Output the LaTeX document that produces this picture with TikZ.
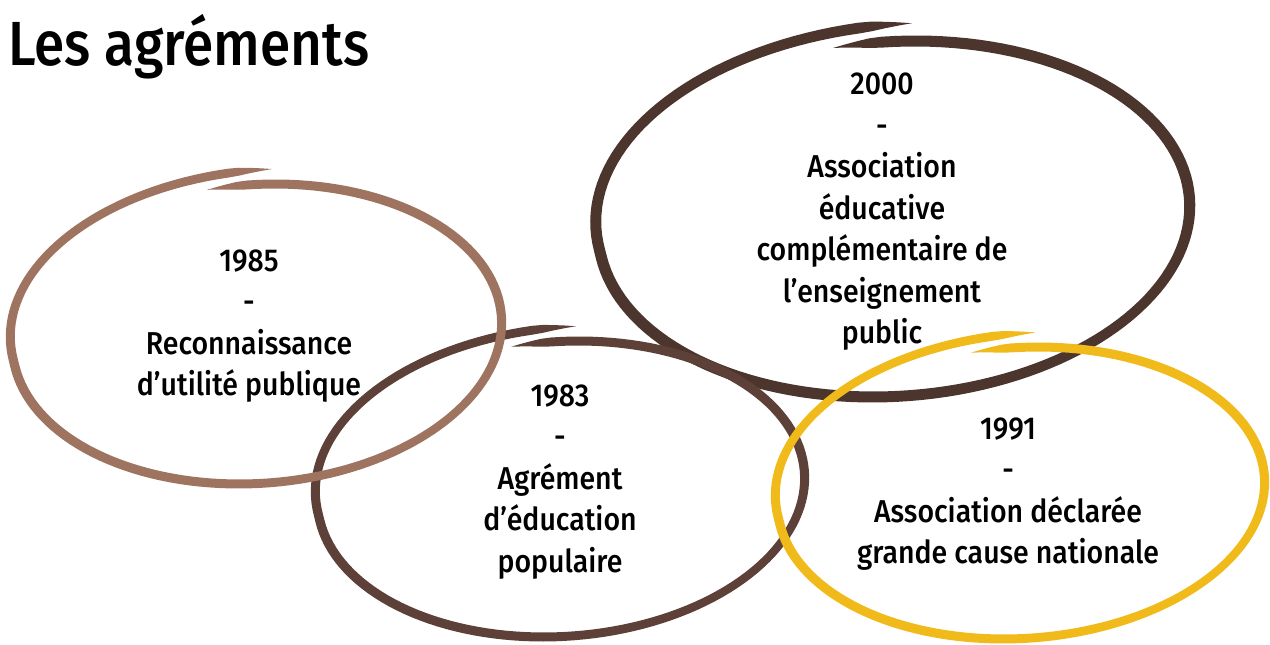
\documentclass[tikz,border=0pt]{standalone}
\usepackage{fontspec}
\setmainfont{Fira Sans Medium}[FakeStretch=0.9]
\newfontfamily\headfont{Fira Sans Medium}[FakeStretch=0.88]

\definecolor{rose85}{HTML}{9E7360}
\definecolor{brown83}{HTML}{5D4037}
\definecolor{dark00}{HTML}{4B352D}
\definecolor{gold91}{HTML}{F0BB1A}

\begin{document}
\begin{tikzpicture}[x=0.02cm, y=-0.02cm,
  declare function={grow(\t)=1+0.1*max(0,1-(\t-91)/100);
                    half(\t)=min(1,(\t-91)/8,(466-\t)/8);},
  brush/.style={domain=91:466, samples=160, variable=\t},
  brushback/.style={domain=466:91, samples=160, variable=\t},
  label/.style={align=center, inner sep=0pt, font=\fontsize{18}{23.6}\selectfont},
  heading/.style={inner sep=0pt, font=\headfont\fontsize{35.5}{40}\selectfont}]
\useasboundingbox (0,0) rectangle (1270,645);

% brush loops, one per year
\fill[dark00, shift={(894,219)}, xslant=.12]
  plot[brush] ({(295*grow(\t)+5.5*half(\t))*cos(\t)}, {-(178*grow(\t)+5.5*half(\t))*sin(\t)})
  -- plot[brushback] ({(295*grow(\t)-5.5*half(\t))*cos(\t)}, {-(178*grow(\t)-5.5*half(\t))*sin(\t)}) -- cycle;
\fill[brown83, shift={(561,489)}, xslant=.12]
  plot[brush] ({(243*grow(\t)+4.5*half(\t))*cos(\t)}, {-(148*grow(\t)+4.5*half(\t))*sin(\t)})
  -- plot[brushback] ({(243*grow(\t)-4.5*half(\t))*cos(\t)}, {-(148*grow(\t)-4.5*half(\t))*sin(\t)}) -- cycle;
\fill[rose85, shift={(257,334)}, xslant=.12]
  plot[brush] ({(244*grow(\t)+4.5*half(\t))*cos(\t)}, {-(150*grow(\t)+4.5*half(\t))*sin(\t)})
  -- plot[brushback] ({(244*grow(\t)-4.5*half(\t))*cos(\t)}, {-(150*grow(\t)-4.5*half(\t))*sin(\t)}) -- cycle;
\fill[gold91, shift={(1021,493)}, xslant=.12]
  plot[brush] ({(243*grow(\t)+4.5*half(\t))*cos(\t)}, {-(146*grow(\t)+4.5*half(\t))*sin(\t)})
  -- plot[brushback] ({(243*grow(\t)-4.5*half(\t))*cos(\t)}, {-(146*grow(\t)-4.5*half(\t))*sin(\t)}) -- cycle;

\node[heading, anchor=base west] (title) at (8,66) {Les agréments};

\node[label] (y1985) at (249,326) {1985\\-\\Reconnaissance\\d’utilité publique};
\node[label] (y1983) at (560,482) {1983\\-\\Agrément\\d’éducation\\populaire};
\node[label] (y2000) at (882,212) {2000\\-\\Association\\éducative\\complémentaire de\\l’enseignement\\public};
\node[label] (y1991) at (1008,494) {1991\\-\\Association déclarée\\grande cause nationale};
\end{tikzpicture}
\end{document}
